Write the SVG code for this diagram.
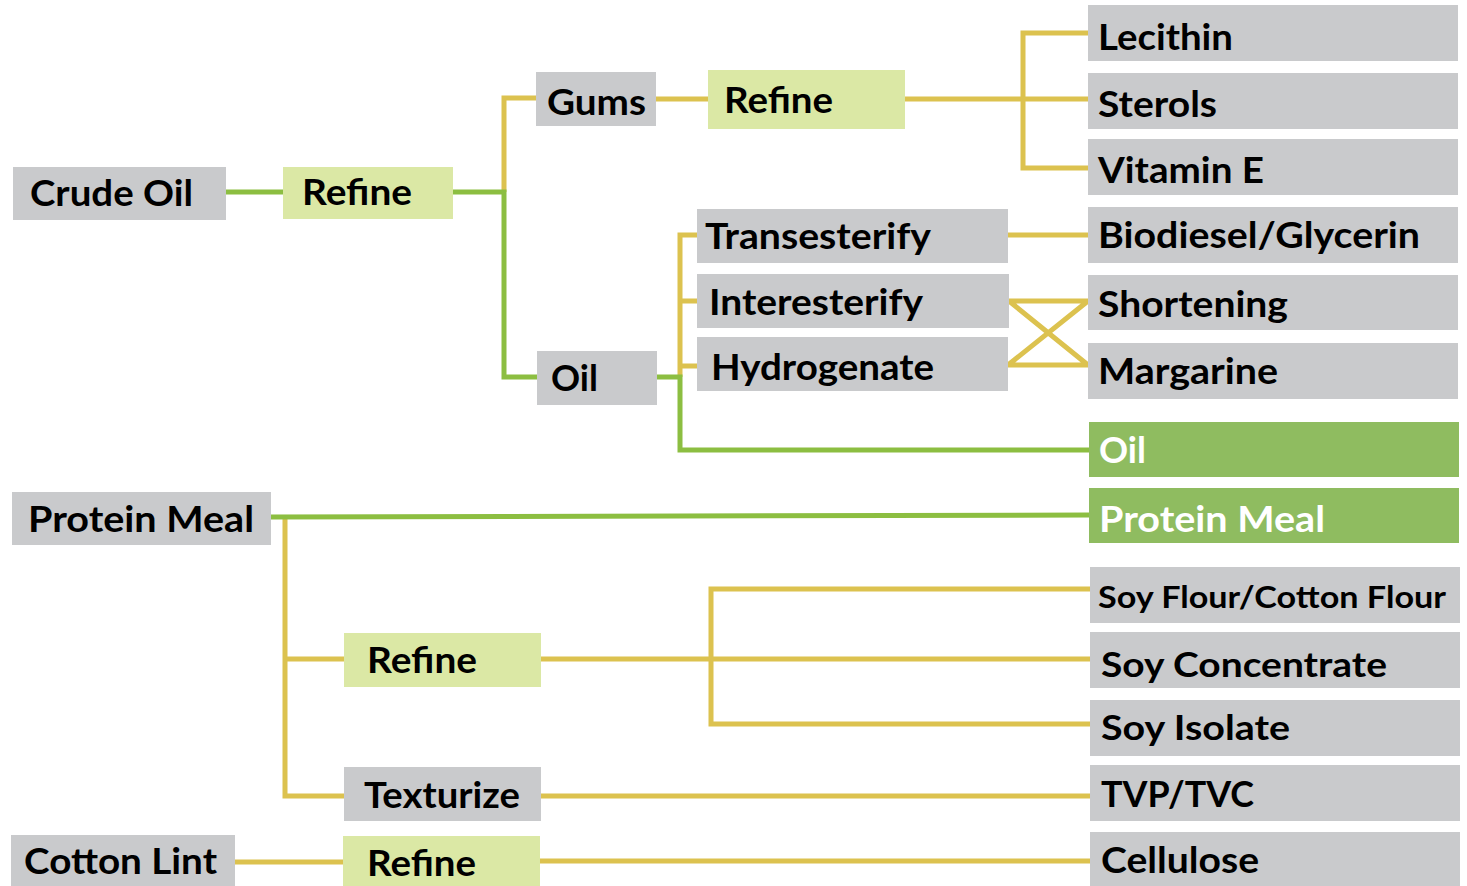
<svg xmlns="http://www.w3.org/2000/svg" width="1467" height="886" viewBox="0 0 1467 886">
<style>
.g{fill:#C9CACC}
.lg{fill:#DBE8A5}
.dg{fill:#8FBC60}
text{font-family:Lato,"Open Sans","Liberation Sans",sans-serif;font-weight:bold;font-size:37px;fill:#000}
text.f30{font-size:30px}
text.f35{font-size:35px}
text.f36{font-size:36px}
.w{fill:#fff}
.y{fill:none;stroke:#DCC24F;stroke-width:5}
.gr{fill:none;stroke:#8CBE41;stroke-width:5}
</style>
<rect width="1467" height="886" fill="#fff"/>
<g id="connectors">
<path class="y" d="M504,192 V98 H536"/>
<path class="y" d="M656,99 H708"/>
<path class="y" d="M905,99 H1088 M1088,33 H1023 V168 H1088"/>
<path class="y" d="M680,377 V235 H697 M680,301 H697 M680,366 H697"/>
<path class="y" d="M1008,235 H1088"/>
<path class="y" d="M1009,301 H1088 M1008,365 H1088 M1009,301 L1088,365 M1008,365 L1088,301"/>
<path class="y" d="M285,517 V796 H344 M285,659 H344"/>
<path class="y" d="M541,659 H1091 M1091,589 H711 V724 H1091"/>
<path class="y" d="M541,796 H1091"/>
<path class="y" d="M235,862 H343"/>
<path class="y" d="M540,861 H1091"/>
<path class="gr" d="M226,192 H283"/>
<path class="gr" d="M453,192 H504 V377 H537"/>
<path class="gr" d="M657,377 H680 V450 H1089"/>
<path class="gr" d="M271,517 L1089,515"/>
</g>
<g id="crude-oil"><rect class="g" x="13" y="167" width="213" height="53"/><text x="30" y="206" textLength="163" lengthAdjust="spacingAndGlyphs">Crude Oil</text></g>
<g id="refine-oil"><rect class="lg" x="283" y="167" width="170" height="52"/><text x="302" y="205" textLength="110" lengthAdjust="spacingAndGlyphs">Refine</text></g>
<g id="gums"><rect class="g" x="536" y="72" width="120" height="54"/><text x="547" y="115" textLength="99" lengthAdjust="spacingAndGlyphs">Gums</text></g>
<g id="refine-gums"><rect class="lg" x="708" y="70" width="197" height="59"/><text x="724" y="113" textLength="109" lengthAdjust="spacingAndGlyphs">Refine</text></g>
<g id="lecithin"><rect class="g" x="1088" y="5" width="370" height="56"/><text x="1098" y="50" textLength="135" lengthAdjust="spacingAndGlyphs">Lecithin</text></g>
<g id="sterols"><rect class="g" x="1088" y="73" width="370" height="56"/><text x="1098" y="117" textLength="119" lengthAdjust="spacingAndGlyphs">Sterols</text></g>
<g id="vitamin-e"><rect class="g" x="1088" y="139" width="370" height="56"/><text x="1098" y="183" textLength="166" lengthAdjust="spacingAndGlyphs">Vitamin E</text></g>
<g id="biodiesel"><rect class="g" x="1088" y="207" width="370" height="56"/><text x="1098" y="248" textLength="322" lengthAdjust="spacingAndGlyphs">Biodiesel/Glycerin</text></g>
<g id="shortening"><rect class="g" x="1088" y="275" width="370" height="55"/><text x="1098" y="317" textLength="190" lengthAdjust="spacingAndGlyphs">Shortening</text></g>
<g id="margarine"><rect class="g" x="1088" y="343" width="370" height="56"/><text x="1098" y="384" textLength="180" lengthAdjust="spacingAndGlyphs">Margarine</text></g>
<g id="oil-product"><rect class="dg" x="1089" y="422" width="370" height="55"/><text class="w" x="1099" y="463" textLength="47" lengthAdjust="spacingAndGlyphs">Oil</text></g>
<g id="protein-meal-product"><rect class="dg" x="1089" y="488" width="370" height="55"/><text class="w" x="1099" y="532" textLength="226" lengthAdjust="spacingAndGlyphs">Protein Meal</text></g>
<g id="transesterify"><rect class="g" x="697" y="209" width="311" height="54"/><text x="705" y="249" textLength="226" lengthAdjust="spacingAndGlyphs">Transesterify</text></g>
<g id="interesterify"><rect class="g" x="697" y="274" width="312" height="54"/><text x="709" y="315" textLength="214" lengthAdjust="spacingAndGlyphs">Interesterify</text></g>
<g id="hydrogenate"><rect class="g" x="697" y="337" width="311" height="54"/><text x="711" y="380" textLength="223" lengthAdjust="spacingAndGlyphs">Hydrogenate</text></g>
<g id="oil"><rect class="g" x="537" y="351" width="120" height="54"/><text x="551" y="391" textLength="47" lengthAdjust="spacingAndGlyphs">Oil</text></g>
<g id="protein-meal"><rect class="g" x="12" y="492" width="259" height="53"/><text x="28" y="532" textLength="226" lengthAdjust="spacingAndGlyphs">Protein Meal</text></g>
<g id="refine-meal"><rect class="lg" x="344" y="633" width="197" height="54"/><text x="367" y="673" textLength="110" lengthAdjust="spacingAndGlyphs">Refine</text></g>
<g id="texturize"><rect class="g" x="344" y="767" width="197" height="54"/><text x="364" y="808" textLength="156" lengthAdjust="spacingAndGlyphs">Texturize</text></g>
<g id="cotton-lint"><rect class="g" x="11" y="835" width="224" height="51"/><text x="24" y="874" textLength="193" lengthAdjust="spacingAndGlyphs">Cotton Lint</text></g>
<g id="refine-lint"><rect class="lg" x="343" y="836" width="197" height="50"/><text x="367" y="876" textLength="109" lengthAdjust="spacingAndGlyphs">Refine</text></g>
<g id="soy-flour"><rect class="g" x="1090" y="567" width="370" height="56"/><text class="f30" x="1098" y="608" textLength="348" lengthAdjust="spacingAndGlyphs">Soy Flour/Cotton Flour</text></g>
<g id="soy-concentrate"><rect class="g" x="1090" y="632" width="370" height="56"/><text class="f35" x="1101" y="677" textLength="286" lengthAdjust="spacingAndGlyphs">Soy Concentrate</text></g>
<g id="soy-isolate"><rect class="g" x="1090" y="700" width="370" height="56"/><text class="f35" x="1101" y="740" textLength="189" lengthAdjust="spacingAndGlyphs">Soy Isolate</text></g>
<g id="tvp"><rect class="g" x="1090" y="765" width="370" height="56"/><text class="f36" x="1101" y="807" textLength="153" lengthAdjust="spacingAndGlyphs">TVP/TVC</text></g>
<g id="cellulose"><rect class="g" x="1090" y="832" width="370" height="54"/><text class="f36" x="1101" y="873" textLength="158" lengthAdjust="spacingAndGlyphs">Cellulose</text></g>
</svg>
